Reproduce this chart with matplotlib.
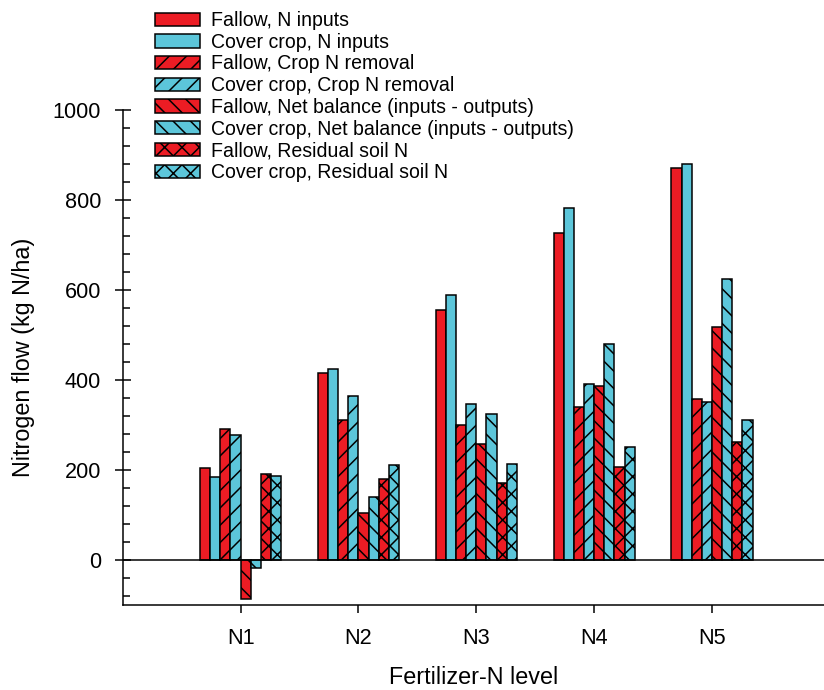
import numpy as np
import matplotlib
matplotlib.use('Agg')
import matplotlib.pyplot as plt
from matplotlib.ticker import MultipleLocator

plt.rcParams['font.family'] = ['Liberation Sans', 'DejaVu Sans']
plt.rcParams['hatch.linewidth'] = 0.7

levels = ['N1', 'N2', 'N3', 'N4', 'N5']

fallow_inputs = [205, 416, 556, 727, 872]
cover_inputs = [185, 424, 589, 782, 881]
fallow_removal = [291, 310, 299, 341, 357]
cover_removal = [278, 364, 346, 391, 350]
fallow_net = [-87, 105, 257, 387, 518]
cover_net = [-17, 141, 324, 481, 624]
fallow_resid = [190, 181, 172, 207, 262]
cover_resid = [186, 210, 214, 251, 310]

red = '#EC1C24'
cyan = '#5CC6DA'

series = [
    ('Fallow, N inputs', fallow_inputs, red, ''),
    ('Cover crop, N inputs', cover_inputs, cyan, ''),
    ('Fallow, Crop N removal', fallow_removal, red, '///'),
    ('Cover crop, Crop N removal', cover_removal, cyan, '///'),
    ('Fallow, Net balance (inputs - outputs)', fallow_net, red, '\\\\\\'),
    ('Cover crop, Net balance (inputs - outputs)', cover_net, cyan, '\\\\\\'),
    ('Fallow, Residual soil N', fallow_resid, red, 'xxx'),
    ('Cover crop, Residual soil N', cover_resid, cyan, 'xxx'),
]

dpi = 156
fig = plt.figure(figsize=(824 / dpi, 690 / dpi), dpi=dpi)
ax = fig.add_axes([0.149, 0.1232, 0.851, 0.7174])

x = np.arange(1, len(levels) + 1)
w = 0.086
n = len(series)
for i, (lab, vals, col, hatch) in enumerate(series):
    off = (i - (n - 1) / 2) * w
    ax.bar(x + off, vals, width=w, color=col, edgecolor='black',
           linewidth=0.7, hatch=hatch, label=lab)

ax.axhline(0, color='black', linewidth=0.7)

ax.set_xlim(0, 5.95)
ax.set_ylim(-100, 1000)
ax.set_xticks(x)
ax.set_xticklabels(levels)
ax.yaxis.set_major_locator(MultipleLocator(200))
ax.yaxis.set_minor_locator(MultipleLocator(40))
ax.tick_params(axis='y', which='major', direction='inout', length=7, width=0.7, labelsize=10, pad=6.5)
ax.tick_params(axis='y', which='minor', direction='in', length=3, width=0.7)
ax.tick_params(axis='x', which='major', direction='out', length=3.5, width=0.7, labelsize=10, pad=7)

for s in ['top', 'right']:
    ax.spines[s].set_visible(False)
for s in ['left', 'bottom']:
    ax.spines[s].set_linewidth(0.7)

ax.set_ylabel('Nitrogen flow (kg N/ha)', fontsize=10.8, labelpad=8)
ax.set_xlabel('Fertilizer-N level', fontsize=10.8)
ax.xaxis.set_label_coords(0.5, -0.124)

ax.legend(loc='upper left', bbox_to_anchor=(155 / 824, 1 - 11 / 690),
          bbox_transform=fig.transFigure, frameon=False, fontsize=9,
          handlelength=2.3, handleheight=0.67, handletextpad=0.55,
          labelspacing=0.14, borderaxespad=0, borderpad=0)

fig.savefig('out.png', dpi=dpi)
